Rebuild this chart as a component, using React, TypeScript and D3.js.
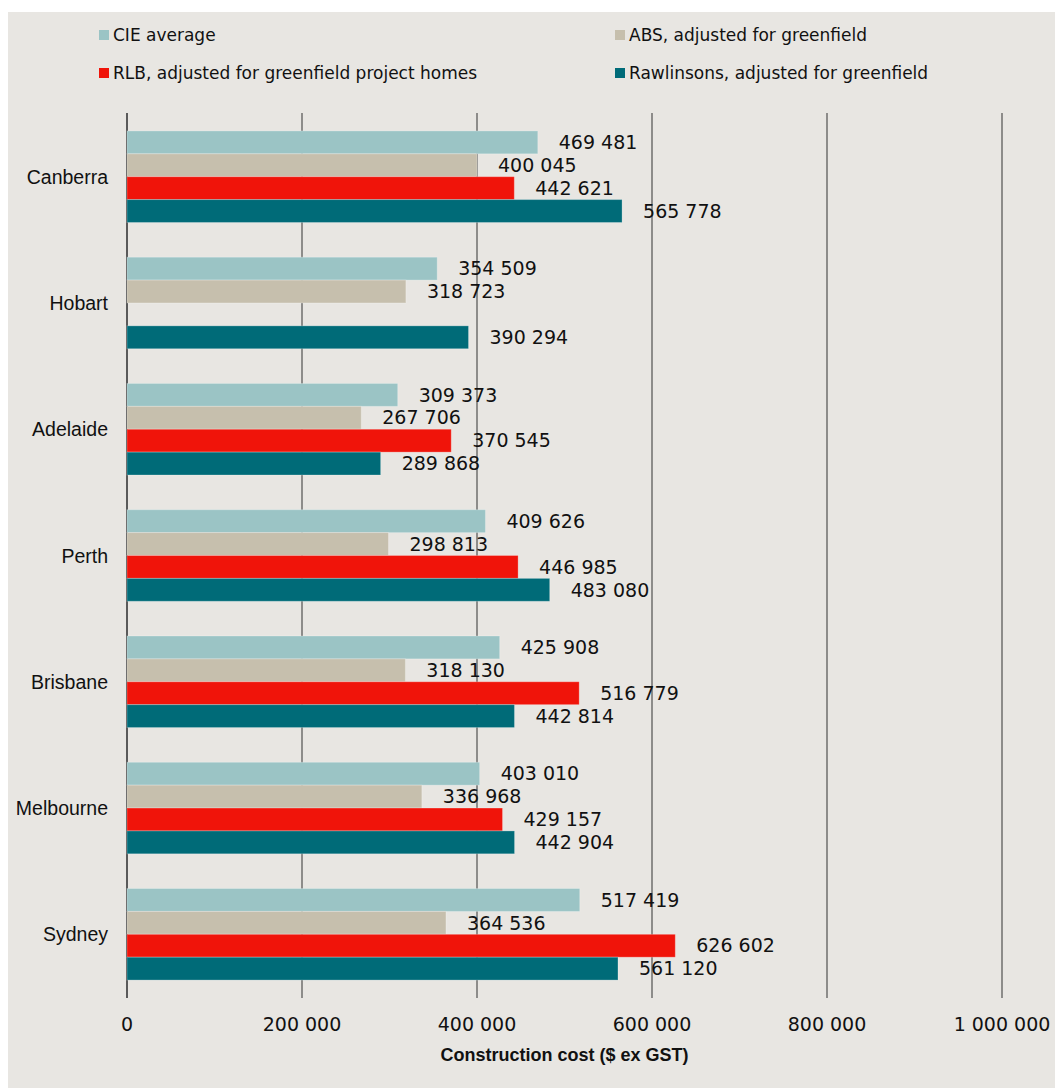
import React from "react";
import * as d3 from "d3";

const cities = ["Canberra", "Hobart", "Adelaide", "Perth", "Brisbane", "Melbourne", "Sydney"];
const seriesNames = [
  "CIE average",
  "ABS, adjusted for greenfield",
  "RLB, adjusted for greenfield project homes",
  "Rawlinsons, adjusted for greenfield",
];
const seriesColors = ["#9BC4C5", "#C6BFAD", "#F0140A", "#006B78"];
const cieAverage = [469481, 354509, 309373, 409626, 425908, 403010, 517419];
const absAdjusted = [400045, 318723, 267706, 298813, 318130, 336968, 364536];
const rlbAdjusted = [442621, null, 370545, 446985, 516779, 429157, 626602];
const rawlinsons = [565778, 390294, 289868, 483080, 442814, 442904, 561120];
const xTicks = [0, 200000, 400000, 600000, 800000, 1000000];
const xTitle = "Construction cost ($ ex GST)";

const allSeries = [cieAverage, absAdjusted, rlbAdjusted, rawlinsons];

const W = 1055;
const H = 1088;

const fmt = (v: number) => d3.format(",")(v).replace(/,/g, "\u00a0");

export default function App() {
  const x = d3.scaleLinear().domain([0, 1000000]).range([127, 1002]);
  const y = d3
    .scaleBand<string>()
    .domain(cities)
    .range([113, 998])
    .paddingInner(0.275)
    .paddingOuter(0.142);
  const sub = d3
    .scaleBand<number>()
    .domain([0, 1, 2, 3])
    .range([0, y.bandwidth()])
    .padding(0);

  const numFont = "'DejaVu Sans', Verdana, sans-serif";
  const catFont = "'Liberation Sans', Arial, sans-serif";

  const legendPos = [
    { x: 99, y: 30 },
    { x: 615, y: 30 },
    { x: 99, y: 68 },
    { x: 615, y: 68 },
  ];

  return (
    <svg
      width={W}
      height={H}
      style={{ position: "absolute", left: 0, top: 0, display: "block" }}
    >
      <rect x={0} y={0} width={W} height={H} fill="#ffffff" />
      <rect x={8} y={12} width={W - 8} height={H - 12} fill="#E8E6E2" />

      {/* legend */}
      {seriesNames.map((name, i) => (
        <g key={name}>
          <rect x={legendPos[i].x} y={legendPos[i].y} width={10} height={10} fill={seriesColors[i]} />
          <text
            x={legendPos[i].x + 14}
            y={legendPos[i].y + 11}
            fontFamily={numFont}
            fontSize={17}
            fill="#111"
          >
            {name}
          </text>
        </g>
      ))}

      {/* gridlines */}
      {xTicks.map((t) => (
        <line
          key={t}
          x1={x(t)}
          x2={x(t)}
          y1={113}
          y2={998}
          stroke={t === 0 ? "#5a5a5a" : "#333333"}
          strokeWidth={t === 0 ? 2 : 1}
        />
      ))}

      {/* bars */}
      {cities.map((c, ci) => (
        <g key={c}>
          {allSeries.map((s, si) => {
            const v = s[ci];
            if (v === null || v === undefined) return null;
            const by = (y(c) as number) + (sub(si) as number);
            const bh = sub.bandwidth();
            return (
              <g key={si}>
                <rect
                  x={x(0)}
                  y={by}
                  width={x(v) - x(0)}
                  height={bh}
                  fill={seriesColors[si]}
                  stroke="rgba(255,255,255,0.25)"
                  strokeWidth={1}
                />
                <text
                  x={x(v) + 21}
                  y={by + bh / 2 + 6.7}
                  fontFamily={numFont}
                  fontSize={19}
                  fill="#111"
                >
                  {fmt(v)}
                </text>
              </g>
            );
          })}
          <text
            x={108}
            y={(y(c) as number) + y.bandwidth() / 2 + 7}
            textAnchor="end"
            fontFamily={catFont}
            fontSize={19.5}
            fill="#111"
          >
            {c}
          </text>
        </g>
      ))}

      {/* tick labels */}
      {xTicks.map((t) => (
        <text
          key={"l" + t}
          x={x(t)}
          y={1031}
          textAnchor="middle"
          fontFamily={numFont}
          fontSize={19}
          fill="#111"
        >
          {fmt(t)}
        </text>
      ))}

      <text
        x={(x(0) + x(1000000)) / 2}
        y={1061}
        textAnchor="middle"
        fontFamily={catFont}
        fontWeight="bold"
        fontSize={18}
        fill="#111"
      >
        {xTitle}
      </text>
    </svg>
  );
}
